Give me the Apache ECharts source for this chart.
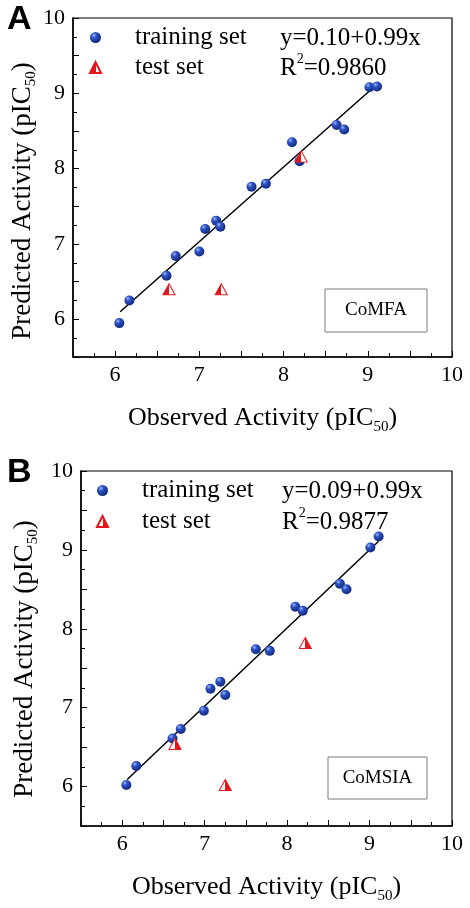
<!DOCTYPE html>
<html><head><meta charset="utf-8">
<script src="https://cdn.jsdelivr.net/npm/echarts@6/dist/echarts.min.js"></script>
<style>html,body{margin:0;padding:0;background:#fff}#c{width:470px;height:908px}</style>
</head><body><div id="c"></div>
<script>
// ---- data ----
const trainAX = [6.05, 6.17, 6.61, 6.72, 7.00, 7.07, 7.20, 7.25, 7.62, 7.79, 8.10, 8.19, 8.63, 8.72, 9.02, 9.11];
const trainAY = [5.95, 6.25, 6.58, 6.84, 6.90, 7.20, 7.31, 7.23, 7.76, 7.80, 8.35, 8.10, 8.58, 8.52, 9.08, 9.09];
const testAX = [6.64, 7.26, 8.21];
const testAY = [6.40, 6.40, 8.16];
const fitAX = [6.06, 9.11];
const fitAY = [6.10, 9.12];

const trainBX = [6.05, 6.17, 6.61, 6.71, 6.99, 7.07, 7.19, 7.25, 7.62, 7.79, 8.10, 8.19, 8.64, 8.72, 9.01, 9.11];
const trainBY = [6.02, 6.26, 6.61, 6.73, 6.96, 7.24, 7.33, 7.16, 7.74, 7.72, 8.28, 8.23, 8.57, 8.50, 9.03, 9.17];
const testBX = [6.64, 7.25, 8.22];
const testBY = [6.54, 6.02, 7.82];
const fitBX = [6.06, 9.11];
const fitBY = [6.09, 9.11];

const tickLabels = ['6', '7', '8', '9', '10'];
const legendLabels = { trainA: 'training set', testA: 'test set', trainB: 'training set', testB: 'test set' };
const eqA = ['y=0.10+0.99x', 'R{sup|2}=0.9860'];
const eqB = ['y=0.09+0.99x', 'R{sup|2}=0.9877'];
const methodA = 'CoMFA';
const methodB = 'CoMSIA';

// ---- chart ----
const SERIF = '"Liberation Serif", "Times New Roman", serif';
const pairs = (xs, ys) => xs.map((x, i) => [x, ys[i]]);
const sphere = new echarts.graphic.RadialGradient(0.35, 0.3, 0.7, [
  { offset: 0, color: '#9db8ff' }, { offset: 0.35, color: '#2d52c4' }, { offset: 1, color: '#122a7e' }]);
const RED = '#e3161b';
const halfTri = (left) => new echarts.graphic.LinearGradient(0, 0, 1, 0, left ? [
  { offset: 0, color: RED }, { offset: 0.5, color: RED }, { offset: 0.5, color: '#ffffff' }, { offset: 1, color: '#ffffff' }] : [
  { offset: 0, color: '#ffffff' }, { offset: 0.5, color: '#ffffff' }, { offset: 0.5, color: RED }, { offset: 1, color: RED }]);

const subRich = { sub: { fontFamily: SERIF, fontSize: 15, padding: [18, 0, 0, 0], color: '#000' } };
const tickFmt = v => (Number.isInteger(v) && tickLabels.includes(String(v))) ? String(v) : '';
function xAxis(gi) {
  return {
    gridIndex: gi, type: 'value', min: 5.5, max: 10, interval: 0.5,
    axisLine: { lineStyle: { color: '#000', width: 1.5 } },
    axisTick: { inside: true, length: 6, lineStyle: { color: '#000', width: 1 } },
    minorTick: { show: true, splitNumber: 2, length: 4, lineStyle: { color: '#000', width: 1 } },
    splitLine: { show: false },
    axisLabel: { color: '#000', fontFamily: SERIF, fontSize: 22, margin: 7, formatter: tickFmt },
    name: 'Observed Activity (pIC{sub|50})', nameLocation: 'middle', nameGap: 45,
    nameTextStyle: { color: '#000', fontFamily: SERIF, fontSize: 26, rich: subRich }
  };
}
function yAxis(gi, shiftPad, gap) {
  return {
    gridIndex: gi, type: 'value', min: 5.5, max: 10, interval: 0.5,
    axisLine: { lineStyle: { color: '#000', width: 1.5 } },
    axisTick: { inside: true, length: 6, lineStyle: { color: '#000', width: 1 } },
    minorTick: { show: true, splitNumber: 2, length: 4, lineStyle: { color: '#000', width: 1 } },
    splitLine: { show: false },
    axisLabel: { color: '#000', fontFamily: SERIF, fontSize: 22, margin: 8, formatter: tickFmt },
    name: 'Predicted Activity (pIC{sub|50})', nameLocation: 'middle', nameGap: gap, nameRotate: 90,
    nameMoveOverlap: false,
    nameTextStyle: { color: '#000', fontFamily: SERIF, fontSize: 27, rich: subRich, padding: [0, shiftPad, 0, 0] }
  };
}
function trainSeries(name, gi, xs, ys) {
  return { name, type: 'scatter', xAxisIndex: gi, yAxisIndex: gi, data: pairs(xs, ys), symbol: 'circle', symbolSize: 10,
    itemStyle: { color: sphere, opacity: 1 }, z: 4 };
}
function testSeries(name, gi, xs, ys, left) {
  return { name, type: 'scatter', xAxisIndex: gi, yAxisIndex: gi, data: pairs(xs, ys), symbol: 'triangle', symbolSize: [12, 11],
    itemStyle: { color: halfTri(left), borderColor: RED, borderWidth: 1, opacity: 1 }, z: 5 };
}
function fitSeries(gi, xs, ys) {
  return { type: 'line', xAxisIndex: gi, yAxisIndex: gi, data: pairs(xs, ys), symbol: 'none',
    lineStyle: { color: '#000', width: 1.5 }, z: 3, silent: true };
}
function legend(names, left, top, gap) {
  return { data: names, orient: 'vertical', left, top, padding: 0, itemWidth: 11, itemHeight: 11, itemGap: gap,
    selectedMode: false, formatter: n => legendLabels[n],
    textStyle: { color: '#000', fontFamily: SERIF, fontSize: 25, padding: [0, 0, 0, 29] } };
}
const supRich = { sup: { fontFamily: SERIF, fontSize: 14, padding: [0, 0, 17, 0], color: '#000' } };
function eqText(lines, x, y1, y2) {
  return [
    { type: 'text', x: x, y: y1, style: { text: lines[0], fontFamily: SERIF, fontSize: 25, fill: '#000', verticalAlign: 'middle' } },
    { type: 'text', x: x, y: y2, style: { text: lines[1], fontFamily: SERIF, fontSize: 25, fill: '#000', verticalAlign: 'middle', rich: supRich } }
  ];
}
function methodBox(label, x, y, w, h) {
  return [
    { type: 'rect', shape: { x, y, width: w, height: h }, style: { fill: '#fff', stroke: '#7a7a7a', lineWidth: 1 }, z: 10 },
    { type: 'text', x: x + w / 2, y: y + h / 2, style: { text: label, font: '19px ' + SERIF, fill: '#000', align: 'center', verticalAlign: 'middle' }, z: 11 }
  ];
}

const chart = echarts.init(document.getElementById('c'), null, { renderer: 'canvas' });
chart.setOption({
  animation: false,
  backgroundColor: '#fff',
  grid: [
    { left: 73, top: 18, width: 379, height: 339, show: true, borderColor: '#000', borderWidth: 1.2, containLabel: false, outerBoundsMode: 'none' },
    { left: 81, top: 471, width: 371, height: 355, show: true, borderColor: '#000', borderWidth: 1.2, containLabel: false, outerBoundsMode: 'none' }
  ],
  xAxis: [xAxis(0), xAxis(1)],
  yAxis: [yAxis(0, 27, 34), yAxis(1, 21, 40)],
  legend: [legend(['trainA', 'testA'], 89, 25, 5), legend(['trainB', 'testB'], 96, 478, 6)],
  series: [
    fitSeries(0, fitAX, fitAY), trainSeries('trainA', 0, trainAX, trainAY), testSeries('testA', 0, testAX, testAY, true),
    fitSeries(1, fitBX, fitBY), trainSeries('trainB', 1, trainBX, trainBY), testSeries('testB', 1, testBX, testBY, false)
  ],
  graphic: [
    { type: 'text', x: 7, y: 20, style: { text: 'A', font: 'bold 34px "Liberation Sans", Arial, sans-serif', fill: '#000', verticalAlign: 'middle' } },
    { type: 'text', x: 7, y: 473, style: { text: 'B', font: 'bold 34px "Liberation Sans", Arial, sans-serif', fill: '#000', verticalAlign: 'middle' } },
    ...eqText(eqA, 280, 38, 68),
    ...eqText(eqB, 282, 491, 522),
    ...methodBox(methodA, 325, 289, 102, 43),
    ...methodBox(methodB, 328, 757, 99, 42)
  ]
});
</script>
</body></html>
